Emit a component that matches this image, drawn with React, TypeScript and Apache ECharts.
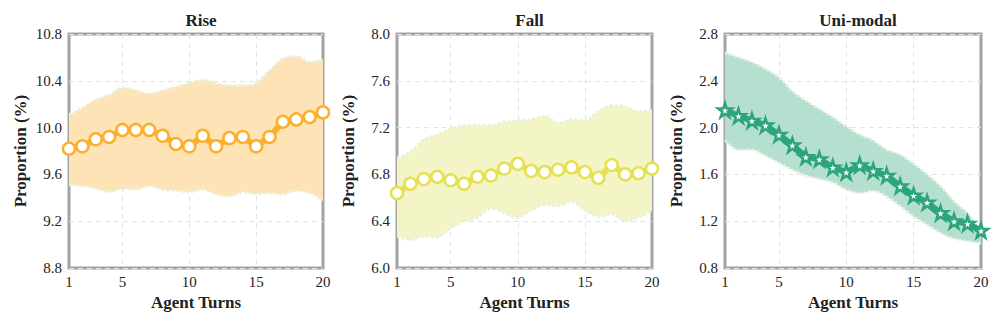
import React, { useEffect, useRef } from "react";
import * as echarts from "echarts";

const turns = ["1","2","3","4","5","6","7","8","9","10","11","12","13","14","15","16","17","18","19","20"];

const riseMean = [9.82,9.84,9.90,9.92,9.98,9.98,9.98,9.93,9.86,9.84,9.93,9.84,9.91,9.92,9.84,9.92,10.05,10.07,10.09,10.13];
const riseUpper = [10.11,10.17,10.24,10.28,10.34,10.32,10.29,10.32,10.35,10.38,10.41,10.38,10.36,10.36,10.38,10.49,10.59,10.61,10.56,10.58];
const riseLower = [9.51,9.50,9.48,9.45,9.48,9.47,9.50,9.47,9.46,9.45,9.47,9.43,9.41,9.45,9.43,9.44,9.43,9.46,9.44,9.38];

const fallMean = [6.64,6.72,6.76,6.78,6.75,6.72,6.78,6.79,6.85,6.89,6.83,6.82,6.84,6.86,6.82,6.77,6.88,6.80,6.81,6.85];
const fallUpper = [6.94,6.99,7.10,7.14,7.19,7.22,7.22,7.22,7.25,7.26,7.27,7.30,7.24,7.27,7.26,7.34,7.39,7.38,7.34,7.35];
const fallLower = [6.27,6.24,6.27,6.26,6.34,6.40,6.43,6.51,6.47,6.43,6.49,6.54,6.53,6.57,6.49,6.44,6.46,6.40,6.43,6.49];

const uniMean = [2.15,2.10,2.06,2.02,1.94,1.85,1.75,1.73,1.66,1.62,1.68,1.63,1.59,1.50,1.42,1.36,1.27,1.20,1.18,1.12];
const uniUpper = [2.64,2.60,2.56,2.50,2.43,2.31,2.23,2.16,2.09,2.01,1.94,1.89,1.81,1.77,1.69,1.60,1.50,1.37,1.27,1.13];
const uniLower = [1.89,1.81,1.81,1.76,1.70,1.64,1.59,1.56,1.53,1.47,1.44,1.46,1.41,1.33,1.24,1.17,1.10,1.05,1.03,1.01];

const titles = ["Rise", "Fall", "Uni-modal"];
const yMins = [8.8, 6.0, 0.8];
const yMaxs = [10.8, 8.0, 2.8];
const shownTurns = ["1", "5", "10", "15", "20"];
const gridTurns = ["5", "10", "15"];

const STAR = "path://M50,0 L61.2,34.5 L97.6,34.5 L68.2,55.9 L79.4,90.5 L50,69.1 L20.6,90.5 L31.8,55.9 L2.4,34.5 L38.8,34.5 Z";

const FONT = "Liberation Serif";

export default function App() {
  const ref = useRef<HTMLDivElement>(null);
  useEffect(() => {
    if (!ref.current) return;
    const chart = echarts.init(ref.current, undefined, { renderer: "svg" });
    const grids = [
      { left: 69, top: 34, width: 254, height: 234 },
      { left: 397, top: 34, width: 255, height: 234 },
      { left: 725, top: 34, width: 256, height: 234 },
    ];
    const panels = [
      { mean: riseMean, upper: riseUpper, lower: riseLower, line: "#FBAF2C", band: "#FDE3B6", symbol: "circle", size: 12 },
      { mean: fallMean, upper: fallUpper, lower: fallLower, line: "#E5E150", band: "#F4F5C6", symbol: "circle", size: 12 },
      { mean: uniMean, upper: uniUpper, lower: uniLower, line: "#2DA57B", band: "#B5E0D0", symbol: STAR, size: 14 },
    ];
    const series: any[] = [];
    panels.forEach((p, i) => {
      const edge = { color: "#E6F1DD", width: 2.5, type: "dotted" };
      series.push({
        type: "line", xAxisIndex: i, yAxisIndex: i, data: p.lower, stack: "band" + i,
        smooth: 0.3, symbol: "none", lineStyle: edge, z: 1,
      });
      series.push({
        type: "line", xAxisIndex: i, yAxisIndex: i,
        data: p.upper.map((u, k) => +(u - p.lower[k]).toFixed(4)), stack: "band" + i,
        smooth: 0.3, symbol: "none", lineStyle: edge, areaStyle: { color: p.band, opacity: 1 }, z: 1,
      });
      series.push({
        type: "line", xAxisIndex: i, yAxisIndex: i, data: p.mean,
        symbol: p.symbol, symbolSize: p.size, showSymbol: true, showAllSymbol: true,
        lineStyle: { color: p.line, width: 6 },
        itemStyle: { color: "#ffffff", borderColor: p.line, borderWidth: 2.5 },
        z: 3,
      });
    });
    chart.setOption({
      animation: false,
      textStyle: { fontFamily: FONT },
      title: titles.map((t, i) => ({
        text: t,
        left: grids[i].left + grids[i].width / 2,
        top: 7,
        textAlign: "center",
        textStyle: { fontFamily: FONT, fontWeight: "bold", fontSize: 17, color: "#222" },
      })),
      grid: grids.map((g) => ({ ...g, show: true, borderColor: "#a3a3a3", borderWidth: 3, backgroundColor: "transparent" })),
      xAxis: grids.map((_, i) => ({
        type: "category", gridIndex: i, data: turns, boundaryGap: false,
        name: "Agent Turns", nameLocation: "middle", nameGap: 25,
        nameTextStyle: { fontFamily: FONT, fontWeight: "bold", fontSize: 17, color: "#222" },
        axisLine: { show: false }, axisTick: { show: false },
        axisLabel: {
          interval: (_idx: number, v: string) => shownTurns.includes(v),
          fontFamily: FONT, fontSize: 15, color: "#222", margin: 6,
        },
        splitLine: {
          show: true,
          interval: (_idx: number, v: string) => gridTurns.includes(v),
          lineStyle: { color: "#e3e3e3", type: [5, 4], width: 1 },
        },
      })),
      yAxis: grids.map((_, i) => ({
        type: "value", gridIndex: i, min: yMins[i], max: yMaxs[i], interval: 0.4,
        name: "Proportion (%)", nameLocation: "middle", nameGap: 40,
        nameTextStyle: { fontFamily: FONT, fontWeight: "bold", fontSize: 17, color: "#222" },
        axisLine: { show: false }, axisTick: { show: false },
        axisLabel: {
          formatter: (v: number) => v.toFixed(1),
          fontFamily: FONT, fontSize: 15, color: "#222", margin: 7,
        },
        splitLine: { show: true, lineStyle: { color: "#e3e3e3", type: [5, 4], width: 1 } },
      })),
      series,
    });
    return () => chart.dispose();
  }, []);
  return <div ref={ref} style={{ position: "fixed", left: 0, top: 0, width: 997, height: 325, background: "#fff" }} />;
}
